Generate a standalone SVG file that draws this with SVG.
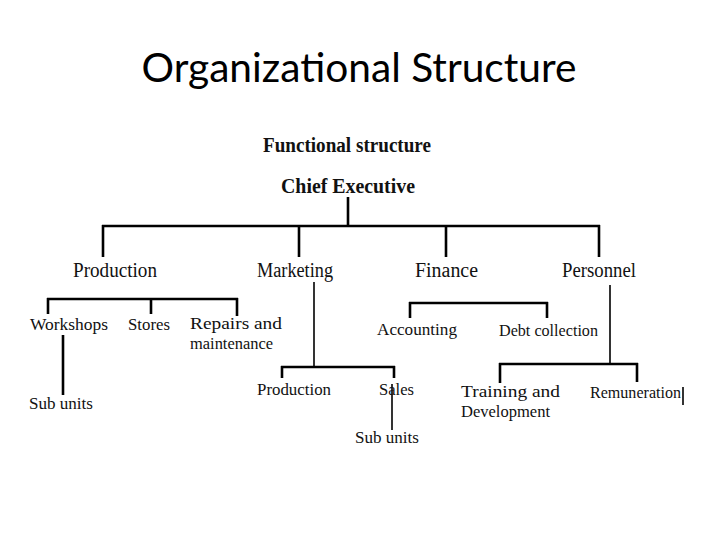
<svg xmlns="http://www.w3.org/2000/svg" width="720" height="540" viewBox="0 0 720 540">
<style>
.t{font-family:"Liberation Serif","Times New Roman",serif;font-size:20px;fill:#111}
.s{font-size:17.5px}
.b{font-family:"Liberation Serif","Times New Roman",serif;font-size:20px;font-weight:bold;fill:#111}
.title{font-family:Lato,"Open Sans",sans-serif;font-size:40px;fill:#000}
.c line{stroke:#000;stroke-width:2.6;fill:none}
.c line.thin{stroke-width:1.6}
</style>
<rect width="720" height="540" fill="#fff"/>
<text class="title" x="359" y="82" text-anchor="middle" textLength="435" lengthAdjust="spacingAndGlyphs">Organizational Structure</text>
<text class="b" x="263" y="152" textLength="168" lengthAdjust="spacingAndGlyphs">Functional structure</text>
<g class="c" id="connectors">
<line x1="348" y1="197" x2="348" y2="227"/>
<line x1="102" y1="226" x2="600" y2="226"/>
<line x1="103" y1="225" x2="103" y2="257"/>
<line x1="299" y1="225" x2="299" y2="257"/>
<line x1="446" y1="225" x2="446" y2="257"/>
<line x1="599" y1="225" x2="599" y2="257"/>
<line x1="47" y1="299" x2="238" y2="299"/>
<line x1="48" y1="298" x2="48" y2="314"/>
<line x1="151" y1="298" x2="151" y2="314"/>
<line x1="237" y1="298" x2="237" y2="316"/>
<line x1="63" y1="335" x2="63" y2="395"/>
<line class="thin" x1="314" y1="282" x2="314" y2="368"/>
<line x1="281" y1="367" x2="395" y2="367"/>
<line x1="282" y1="366" x2="282" y2="378"/>
<line x1="394" y1="366" x2="394" y2="378"/>
<line class="thin" x1="392" y1="384" x2="392" y2="430"/>
<line x1="409" y1="303" x2="548" y2="303"/>
<line x1="410" y1="302" x2="410" y2="318"/>
<line x1="547" y1="302" x2="547" y2="318"/>
<line class="thin" x1="610" y1="285" x2="610" y2="364"/>
<line x1="499" y1="364" x2="638" y2="364"/>
<line x1="500" y1="363" x2="500" y2="383"/>
<line x1="637" y1="363" x2="637" y2="382"/>
<line class="thin" x1="683" y1="387" x2="683" y2="405"/>
</g>
<g id="chief"><text class="b" x="281" y="193" textLength="134" lengthAdjust="spacingAndGlyphs">Chief Executive</text></g>
<g id="production"><text class="t" x="73" y="277" textLength="84" lengthAdjust="spacingAndGlyphs">Production</text></g>
<g id="marketing"><text class="t" x="257" y="277" textLength="76" lengthAdjust="spacingAndGlyphs">Marketing</text></g>
<g id="finance"><text class="t" x="415" y="277" textLength="63" lengthAdjust="spacingAndGlyphs">Finance</text></g>
<g id="personnel"><text class="t" x="562" y="277" textLength="74" lengthAdjust="spacingAndGlyphs">Personnel</text></g>
<g id="workshops"><text class="t s" x="30" y="330" textLength="78" lengthAdjust="spacingAndGlyphs">Workshops</text></g>
<g id="stores"><text class="t s" x="128" y="330" textLength="42" lengthAdjust="spacingAndGlyphs">Stores</text></g>
<g id="repairs"><text class="t s" x="190" y="329" textLength="92" lengthAdjust="spacingAndGlyphs">Repairs  and</text><text class="t s" x="190" y="349" textLength="83" lengthAdjust="spacingAndGlyphs">maintenance</text></g>
<g id="subunits1"><text class="t s" x="29" y="409" textLength="64" lengthAdjust="spacingAndGlyphs">Sub units</text></g>
<g id="mprod"><text class="t s" x="257" y="395" textLength="74" lengthAdjust="spacingAndGlyphs">Production</text></g>
<g id="sales"><text class="t s" x="379" y="395" textLength="35" lengthAdjust="spacingAndGlyphs">Sales</text></g>
<g id="subunits2"><text class="t s" x="355" y="443" textLength="64" lengthAdjust="spacingAndGlyphs">Sub units</text></g>
<g id="accounting"><text class="t s" x="377" y="335" textLength="80" lengthAdjust="spacingAndGlyphs">Accounting</text></g>
<g id="debt"><text class="t s" x="499" y="336" textLength="99" lengthAdjust="spacingAndGlyphs">Debt collection</text></g>
<g id="training"><text class="t s" x="461" y="397" textLength="99" lengthAdjust="spacingAndGlyphs">Training  and</text><text class="t s" x="461" y="417" textLength="89" lengthAdjust="spacingAndGlyphs">Development</text></g>
<g id="remuneration"><text class="t s" x="590" y="398" textLength="91" lengthAdjust="spacingAndGlyphs">Remuneration</text></g>
</svg>
